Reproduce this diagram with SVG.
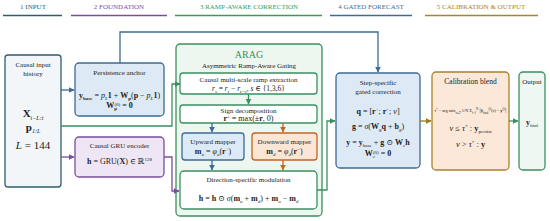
<svg xmlns="http://www.w3.org/2000/svg" width="550" height="221" viewBox="0 0 550 221">
<style>
text { font-family: "Liberation Serif", "DejaVu Serif", serif; fill: #222; }
.hd { font-size: 7px; text-anchor: middle; }
.lbl { font-size: 7px; text-anchor: middle; }
.fm { font-size: 8px; font-weight: bold; text-anchor: middle; }
.it { font-style: italic; font-weight: normal; }
.nb { font-weight: normal; }
.s { font-size: 5px; }
.box { stroke-width: 1.3; }
.conn { fill: none; stroke-width: 1.3; }
</style>
<defs>
<marker id="aBlue" viewBox="0 0 10 10" refX="9" refY="5" markerWidth="6" markerHeight="6" markerUnits="userSpaceOnUse" orient="auto"><path d="M0,0 L10,5 L0,10 z" fill="#3d6b96"/></marker>
<marker id="aGreen" viewBox="0 0 10 10" refX="9" refY="5" markerWidth="6" markerHeight="6" markerUnits="userSpaceOnUse" orient="auto"><path d="M0,0 L10,5 L0,10 z" fill="#3a9060"/></marker>
<marker id="aPurple" viewBox="0 0 10 10" refX="9" refY="5" markerWidth="6" markerHeight="6" markerUnits="userSpaceOnUse" orient="auto"><path d="M0,0 L10,5 L0,10 z" fill="#7b4e9c"/></marker>
<marker id="aOrange" viewBox="0 0 10 10" refX="9" refY="5" markerWidth="6" markerHeight="6" markerUnits="userSpaceOnUse" orient="auto"><path d="M0,0 L10,5 L0,10 z" fill="#c0652a"/></marker>
<marker id="aBrown" viewBox="0 0 10 10" refX="9" refY="5" markerWidth="6" markerHeight="6" markerUnits="userSpaceOnUse" orient="auto"><path d="M0,0 L10,5 L0,10 z" fill="#9a7a1e"/></marker>
</defs>
<rect width="550" height="221" fill="#ffffff"/>

<g id="headers">
<text class="hd" x="33" y="9" style="fill:#2e5e6e">1 INPUT</text>
<line x1="3" y1="15.5" x2="62" y2="15.5" stroke="#2e5e6e" stroke-width="1.5"/>
<text class="hd" x="119" y="9" style="fill:#7b4e9c">2 FOUNDATION</text>
<line x1="71" y1="15.5" x2="167" y2="15.5" stroke="#7b4e9c" stroke-width="1.5"/>
<text class="hd" x="249" y="9" style="fill:#3a9a5a">3 RAMP-AWARE CORRECTION</text>
<line x1="175" y1="15.5" x2="322" y2="15.5" stroke="#3a9a5a" stroke-width="1.5"/>
<text class="hd" x="371" y="9" style="fill:#3d6b96">4 GATED FORECAST</text>
<line x1="330" y1="15.5" x2="412" y2="15.5" stroke="#3d6b96" stroke-width="1.5"/>
<text class="hd" x="481" y="9" style="fill:#a8832a">5 CALIBRATION &amp; OUTPUT</text>
<line x1="425" y1="15.5" x2="538" y2="15.5" stroke="#a8832a" stroke-width="1.5"/>
</g>

<g id="input">
<rect class="box" x="5" y="55" width="56" height="132" rx="3" fill="#f3f6f9" stroke="#2e5e6e"/>
<text class="lbl" x="33" y="67">Causal input</text>
<text class="lbl" x="33" y="76">history</text>
<text x="33" y="117" font-size="11" font-weight="bold" text-anchor="middle">X<tspan dy="2.5" font-size="6" class="it">t−L:t</tspan></text>
<text x="33" y="131" font-size="11" font-weight="bold" text-anchor="middle">p<tspan dy="2" font-size="6" class="it">1:L</tspan></text>
<text x="33" y="149" font-size="11" text-anchor="middle"><tspan font-style="italic">L</tspan> = 144</text>
</g>

<g id="persistence">
<rect class="box" x="75" y="63" width="89" height="53" rx="4" fill="#dde9f5" stroke="#3d6b96"/>
<text class="lbl" x="119.5" y="75">Persistence anchor</text>
<text class="fm" x="119.5" y="98" font-size="7.5">y<tspan class="s" dy="1.5">base</tspan><tspan dy="-1.5" class="nb"> = </tspan><tspan class="it">p</tspan><tspan class="s it" dy="1.5">L</tspan><tspan dy="-1.5">1 </tspan><tspan class="nb">+ </tspan>W<tspan class="s" dy="1.5">p</tspan><tspan dy="-1.5" class="nb">(</tspan>p<tspan class="nb"> − </tspan><tspan class="it">p</tspan><tspan class="s it" dy="1.5">L</tspan><tspan dy="-1.5">1</tspan><tspan class="nb">)</tspan></text>
<text class="fm" x="119.5" y="108" font-size="7.5">W<tspan class="s" dy="1.5">p</tspan><tspan class="s nb" dy="-4" dx="-2.5">(0)</tspan><tspan dy="2.5" class="nb"> = </tspan>0</text>
</g>

<g id="gru">
<rect class="box" x="75" y="137" width="89" height="40" rx="4" fill="#efe6f5" stroke="#7b4e9c"/>
<text class="lbl" x="119.5" y="148">Causal GRU encoder</text>
<text class="fm" x="119.5" y="164" font-size="8.5">h<tspan class="nb"> = GRU(</tspan>X<tspan class="nb">) ∈ ℝ</tspan><tspan class="s nb" dy="-3.5">128</tspan></text>
</g>

<g id="arag">
<rect class="box" x="176" y="44" width="146" height="172" rx="4" fill="#eef6f0" stroke="#3a9060"/>
<text x="249" y="58" font-size="10" text-anchor="middle" style="fill:#3a9060">ARAG</text>
<text class="lbl" x="249" y="68">Asymmetric Ramp-Aware Gating</text>
</g>

<g id="ramp">
<rect class="box" x="180" y="73" width="137" height="21" rx="3" fill="#ffffff" stroke="#3a9060"/>
<text class="lbl" x="248.5" y="82">Causal multi-scale ramp extraction</text>
<text x="248.5" y="91" font-size="7.5" text-anchor="middle"><tspan font-style="italic">r</tspan><tspan class="s it" dy="1.5">s</tspan><tspan dy="-1.5"> = </tspan><tspan font-style="italic">r</tspan><tspan class="s it" dy="1.5">t</tspan><tspan dy="-1.5"> − </tspan><tspan font-style="italic">r</tspan><tspan class="s it" dy="1.5">t−s</tspan><tspan dy="-1.5">, </tspan><tspan font-style="italic">s</tspan> ∈ {1,3,6}</text>
</g>

<g id="sign">
<rect class="box" x="180" y="105" width="137" height="18" rx="3" fill="#ffffff" stroke="#3a9060"/>
<text class="lbl" x="248.5" y="112.5">Sign decomposition</text>
<text class="fm" x="248.5" y="120.5" font-size="7.5">r<tspan class="s nb" dy="-3">±</tspan><tspan class="nb" dy="3"> = max(±</tspan>r<tspan class="nb">, 0)</tspan></text>
</g>

<g id="upward">
<rect class="box" x="182" y="133" width="62" height="27" rx="3" fill="#dce9f6" stroke="#3d6b96"/>
<text class="lbl" x="213" y="143.5">Upward mapper</text>
<text class="fm" x="213" y="154" font-size="7.5">m<tspan class="s it" dy="1.5">u</tspan><tspan class="nb" dy="-1.5"> = </tspan><tspan class="it">φ</tspan><tspan class="s it" dy="1.5">u</tspan><tspan class="nb" dy="-1.5">(</tspan>r<tspan class="s nb" dy="-3">+</tspan><tspan class="nb" dy="3">)</tspan></text>
</g>

<g id="downward">
<rect class="box" x="252" y="133" width="65" height="27" rx="3" fill="#fbe6d6" stroke="#c0652a"/>
<text class="lbl" x="284.5" y="143.5">Downward mapper</text>
<text class="fm" x="284.5" y="154" font-size="7.5">m<tspan class="s it" dy="1.5">d</tspan><tspan class="nb" dy="-1.5"> = </tspan><tspan class="it">φ</tspan><tspan class="s it" dy="1.5">d</tspan><tspan class="nb" dy="-1.5">(</tspan>r<tspan class="s nb" dy="-3">−</tspan><tspan class="nb" dy="3">)</tspan></text>
</g>

<g id="modulation">
<rect class="box" x="180" y="171" width="137" height="38" rx="4" fill="#ffffff" stroke="#3a9060"/>
<text class="lbl" x="248.5" y="182">Direction-specific modulation</text>
<text class="fm" x="248.5" y="201">h<tspan class="nb"> = </tspan>h<tspan class="nb"> ⊙ </tspan><tspan class="it">σ</tspan><tspan class="nb">(</tspan>m<tspan class="s it" dy="1.5">u</tspan><tspan class="nb" dy="-1.5"> + </tspan>m<tspan class="s it" dy="1.5">d</tspan><tspan class="nb" dy="-1.5">) + </tspan>m<tspan class="s it" dy="1.5">u</tspan><tspan class="nb" dy="-1.5"> − </tspan>m<tspan class="s it" dy="1.5">d</tspan></text>
</g>

<g id="step">
<rect class="box" x="336" y="73" width="84" height="95" rx="4" fill="#dde9f5" stroke="#3d6b96"/>
<text class="lbl" x="378" y="85">Step-specific</text>
<text class="lbl" x="378" y="94">gated correction</text>
<text class="fm" x="378" y="114">q<tspan class="nb"> = [</tspan>r<tspan class="s nb" dy="-3">+</tspan><tspan class="nb" dy="3">; </tspan>r<tspan class="s nb" dy="-3">−</tspan><tspan class="nb" dy="3">; </tspan><tspan class="it">v</tspan><tspan class="nb">]</tspan></text>
<text class="fm" x="378" y="129">g<tspan class="nb"> = </tspan><tspan class="it">σ</tspan><tspan class="nb">(</tspan>W<tspan class="s it" dy="1.5">g</tspan><tspan dy="-1.5">q</tspan><tspan class="nb"> + </tspan>b<tspan class="s it" dy="1.5">g</tspan><tspan class="nb" dy="-1.5">)</tspan></text>
<text class="fm" x="378" y="145">y<tspan class="nb"> = </tspan>y<tspan class="s nb" dy="1.5">base</tspan><tspan class="nb" dy="-1.5"> + </tspan>g<tspan class="nb"> ⊙ </tspan>W<tspan class="s it" dy="1.5">c</tspan><tspan dy="-1.5">h</tspan></text>
<text class="fm" x="378" y="156">W<tspan class="s it" dy="1.5">c</tspan><tspan class="s nb" dy="-4" dx="-2">(0)</tspan><tspan class="nb" dy="2.5"> = </tspan>0</text>
</g>

<g id="calibration">
<rect class="box" x="432" y="72" width="77" height="98" rx="4" fill="#fbe8d9" stroke="#a8832a"/>
<text x="470.5" y="84" font-size="7.5" text-anchor="middle">Calibration blend</text>
<text x="434.5" y="112" font-size="4.3" textLength="72" lengthAdjust="spacingAndGlyphs"><tspan font-style="italic">τ</tspan><tspan font-size="3" dy="-1.5">*</tspan><tspan dy="1.5"> = arg min</tspan><tspan font-size="3" dy="1.5">τ∈T</tspan><tspan dy="-1.5"> 1/N Σ</tspan><tspan font-size="3" dy="1.5">i=1</tspan><tspan font-size="3" dy="-3.5">N</tspan><tspan dy="2" font-size="5.5"> |</tspan><tspan font-weight="bold">ŷ</tspan><tspan font-size="3" dy="1.5">final</tspan><tspan font-size="3" dy="-3.5">(i)</tspan><tspan dy="2">(</tspan><tspan font-style="italic">τ</tspan>) − <tspan font-weight="bold">y</tspan><tspan font-size="3" dy="-2">(i)</tspan><tspan dy="2" font-size="5.5">|</tspan></text>
<text x="470.5" y="131" font-size="8.5" text-anchor="middle"><tspan font-style="italic">v</tspan> ≤ <tspan font-style="italic">τ</tspan><tspan font-size="5" dy="-3">*</tspan><tspan dy="3"> : </tspan><tspan font-weight="bold">y</tspan><tspan font-size="5" dy="1.5">persist</tspan></text>
<text x="470.5" y="147" font-size="8.5" text-anchor="middle"><tspan font-style="italic">v</tspan> &gt; <tspan font-style="italic">τ</tspan><tspan font-size="5" dy="-3">*</tspan><tspan dy="3"> : </tspan><tspan font-weight="bold">y</tspan></text>
</g>

<g id="output">
<rect class="box" x="519" y="72" width="26" height="98" rx="4" fill="#eef7f2" stroke="#3a9060"/>
<text x="532" y="84" font-size="7" text-anchor="middle">Output</text>
<text x="532" y="125" font-size="8" font-weight="bold" text-anchor="middle">y<tspan font-size="4.5" font-weight="normal" dy="1.5">final</tspan></text>
</g>

<g id="connectors">
<path class="conn" d="M120,63 V32 H378 V72" stroke="#3d6b96" marker-end="url(#aBlue)"/>
<path class="conn" d="M61,90 H74" stroke="#3d6b96" marker-end="url(#aBlue)"/>
<path class="conn" d="M61,157 H74" stroke="#7b4e9c" marker-end="url(#aPurple)"/>
<path class="conn" d="M61,126 H172 V84 H180" stroke="#3a9060" marker-end="url(#aGreen)"/>
<path class="conn" d="M164,157 H172 V191 H179" stroke="#7b4e9c" marker-end="url(#aPurple)"/>
<path class="conn" d="M248.5,94 V104" stroke="#3a9060" marker-end="url(#aGreen)"/>
<path class="conn" d="M212,123 V132" stroke="#3d6b96" marker-end="url(#aBlue)"/>
<path class="conn" d="M283,123 V132" stroke="#c0652a" marker-end="url(#aOrange)"/>
<path class="conn" d="M212,160 V170" stroke="#3d6b96" marker-end="url(#aBlue)"/>
<path class="conn" d="M283,160 V170" stroke="#c0652a" marker-end="url(#aOrange)"/>
<path class="conn" d="M317,190 H327 V121 H335" stroke="#3a9060" marker-end="url(#aGreen)"/>
<path class="conn" d="M420,121 H431" stroke="#9a7a1e" marker-end="url(#aBrown)"/>
<path class="conn" d="M509,121 H518" stroke="#3a9060" marker-end="url(#aGreen)"/>
</g>
</svg>
